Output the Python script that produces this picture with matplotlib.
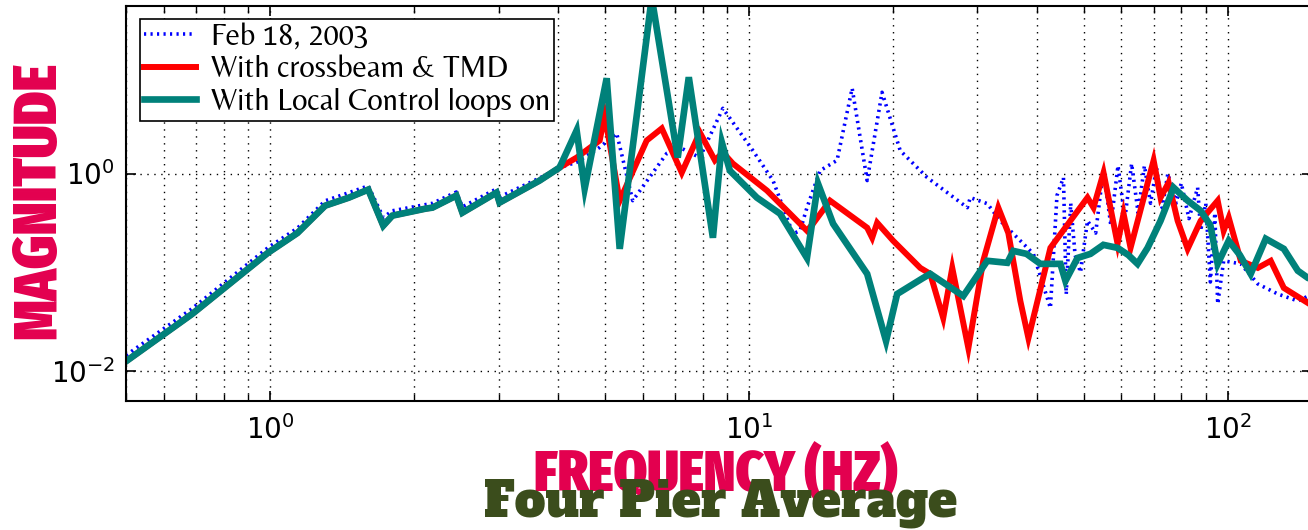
import numpy as np
import matplotlib
matplotlib.use("Agg")
import matplotlib.pyplot as plt
from matplotlib import font_manager
from matplotlib.ticker import FixedLocator, LogLocator, NullLocator, FuncFormatter

# --- data (frequency in Hz, magnitude) ---
f_feb = [0.5, 0.687, 0.99, 1.14, 1.303, 1.46, 1.603, 1.723, 1.80, 2.183, 2.449, 2.521, 2.97, 3.014,
         3.654, 4.023, 4.367, 4.879, 5.295, 5.719, 6.737, 7.17, 7.896, 8.823, 10.19, 11.23, 12.36,
         12.79, 13.22, 14.08, 15.28, 16.43, 17.66, 18.97, 20.70, 23.57, 28.59, 29.0, 31.47, 33.5,
         36.89, 39.28, 42.63, 44.0, 45.39, 46.0, 47.0, 48.0, 49.27, 50.95, 53.0, 55.0, 57.0, 59.0,
         61.0, 63.0, 65.0, 67.0, 69.0, 71.0, 73.0, 75.0, 78.0, 80.0, 83.0, 86.54, 87.81, 90.0, 92.0,
         94.0, 95.3, 98.09, 106.5, 115.6, 127.2, 140.1, 150.0]
m_feb = [0.0145, 0.043, 0.178, 0.28, 0.53, 0.64, 0.75, 0.36, 0.42, 0.50, 0.65, 0.46, 0.70, 0.58,
         0.90, 1.15, 1.3, 1.84, 2.55, 0.532, 1.60, 1.84, 1.45, 4.57, 1.71, 0.849, 0.246,
         0.264, 0.452, 1.07, 1.36, 7.29, 0.849, 6.64, 1.71, 0.911, 0.452, 0.571, 0.496, 0.333,
         0.209, 0.154, 0.0436, 0.6, 0.911, 0.06, 0.5, 0.15, 0.10, 0.333, 0.25, 1.1, 0.3, 1.2,
         0.35, 1.26, 0.4, 1.2, 0.5, 1.15, 0.45, 1.0, 0.5, 0.8, 0.35, 0.721, 0.264, 0.5, 0.08,
         0.4, 0.048, 0.131, 0.122, 0.0764, 0.0605, 0.0514, 0.06]

f_tmd = [0.5, 0.687, 0.99, 1.14, 1.303, 1.46, 1.603, 1.723, 1.80, 2.11, 2.183, 2.449, 2.521, 2.97,
         3.014, 3.654, 4.023, 4.367, 4.879, 4.997, 5.372, 6.117, 6.577, 7.24, 7.896, 8.491, 8.823,
         9.259, 10.91, 13.22, 13.61, 14.77, 17.66, 18.09, 18.53, 20.01, 22.80, 23.92, 25.46, 26.59,
         28.73, 30.86, 33.18, 34.82, 36.89, 38.35, 42.63, 50.95, 52.45, 55.04, 58.88, 60.60, 62.68,
         70.03, 72.41, 75.26, 78.6, 82.48, 87.81, 95.3, 98.09, 100.5, 106.5, 115.6, 123.0, 131.0,
         147.1, 150.0]
m_tmd = [0.0126, 0.0379, 0.158, 0.25, 0.473, 0.57, 0.688, 0.297, 0.375, 0.441, 0.452, 0.598, 0.402,
         0.641, 0.508, 0.849, 1.15, 1.45, 2.16, 3.88, 0.532, 2.16, 2.86, 1.02, 2.61, 1.36, 1.63,
         1.26, 0.672, 0.264, 0.311, 0.532, 0.283, 0.224, 0.318, 0.209, 0.111, 0.0966, 0.0345, 0.111,
         0.0171, 0.131, 0.452, 0.25, 0.0514, 0.0216, 0.177, 0.571, 0.452, 1.02, 0.195, 0.393, 0.177,
         1.36, 0.571, 0.81, 0.333, 0.173, 0.333, 0.532, 0.264, 0.358, 0.131, 0.111, 0.131, 0.0696,
         0.049, 0.055]

f_lc = [0.5, 0.687, 0.99, 1.14, 1.303, 1.46, 1.603, 1.723, 1.80, 2.11, 2.183, 2.449, 2.521, 2.97,
        3.014, 3.654, 4.023, 4.367, 4.539, 5.046, 5.372, 6.267, 7.101, 7.489, 8.41, 8.781, 9.126,
        10.39, 11.61, 13.22, 13.94, 14.99, 17.66, 19.34, 20.40, 23.12, 23.92, 28.04, 31.47, 34.65,
        35.67, 38.0, 40.63, 44.73, 45.83, 48.56, 51.69, 55.0, 58.88, 62.0, 64.82, 68.03, 72.41,
        77.09, 82.48, 87.81, 92.0, 95.3, 100.5, 106.0, 111.7, 120.1, 131.0, 140.1, 147.1, 150.0]
m_lc = [0.0126, 0.0379, 0.158, 0.25, 0.473, 0.57, 0.688, 0.297, 0.375, 0.441, 0.452, 0.598, 0.402,
        0.641, 0.508, 0.849, 1.15, 2.73, 0.704, 9.21, 0.173, 60.0, 1.45, 9.43, 0.224, 2.06, 1.07,
        0.571, 0.393, 0.140, 0.792, 0.311, 0.0966, 0.0202, 0.0605, 0.0879, 0.0966, 0.0577, 0.131,
        0.125, 0.165, 0.154, 0.122, 0.122, 0.082, 0.140, 0.154, 0.19, 0.177, 0.15, 0.122, 0.177,
        0.333, 0.721, 0.532, 0.421, 0.30, 0.122, 0.209, 0.15, 0.0966, 0.219, 0.173, 0.104, 0.0879,
        0.085]

labels = ["Feb 18, 2003", "With crossbeam & TMD", "With Local Control loops on"]


def pick(names):
    have = set(f.name for f in font_manager.fontManager.ttflist)
    for n in names:
        if n in have:
            return n
    return "DejaVu Sans"


tickfont = pick(["Pragati Narrow", "Liberation Sans Narrow", "Arimo", "Liberation Sans"])
legfont = pick(["Belleza", "Tenor Sans", "Lato"])
heavy = pick(["Fira Sans Extra Condensed", "Fira Sans Condensed", "DejaVu Sans"])
slab = pick(["Ultra", "Alfa Slab One", "Abril Fatface", "DejaVu Serif"])

plt.rcParams["mathtext.fontset"] = "custom"
plt.rcParams["mathtext.rm"] = tickfont
plt.rcParams["mathtext.it"] = tickfont
plt.rcParams["mathtext.bf"] = tickfont

fig = plt.figure(figsize=(13.08, 5.30), dpi=100)
ax = fig.add_axes([126 / 1308, 1 - 401 / 530, (1312 - 126) / 1308, (401 - 5.6) / 530])

ax.plot(f_feb, m_feb, color="#0000ff", linestyle=(0, (0.6, 1.2)), linewidth=2.6, label=labels[0])
ax.plot(f_tmd, m_tmd, color="#ff0000", linewidth=4.3, label=labels[1], solid_joinstyle="miter")
ax.plot(f_lc, m_lc, color="#00817a", linewidth=4.8, label=labels[2], solid_joinstyle="miter")

ax.set_xscale("log")
ax.set_yscale("log")
ax.set_xlim(0.5, 150)
ax.set_ylim(0.005, 50)

ax.xaxis.set_major_locator(FixedLocator([1, 10, 100]))
ax.xaxis.set_minor_locator(LogLocator(base=10, subs=np.arange(2, 10)))
ax.yaxis.set_major_locator(FixedLocator([1e-2, 1e0]))
ax.yaxis.set_minor_locator(NullLocator())
fmt = FuncFormatter(lambda v, p: r"$\mathregular{10^{%d}}$" % round(np.log10(v)))
ax.xaxis.set_major_formatter(fmt)
ax.yaxis.set_major_formatter(fmt)
ax.xaxis.set_minor_formatter(FuncFormatter(lambda v, p: ""))

ax.tick_params(which="both", direction="in", top=True, right=True, labelsize=20, colors="black")
ax.tick_params(which="major", length=7, width=1.2)
ax.tick_params(which="minor", length=5, width=1.0)
ax.tick_params(axis="x", pad=10)
ax.tick_params(axis="y", pad=8)

ax.grid(True, which="major", color="black", linestyle=(0, (1, 4)), linewidth=1.0)
ax.grid(True, which="minor", axis="x", color="black", linestyle=(0, (1, 4)), linewidth=1.0)
for s in ax.spines.values():
    s.set_linewidth(1.5)

leg = ax.legend(loc="upper left", bbox_to_anchor=((140 - 126) / 1186, (401 - 19) / 395.4),
                borderaxespad=0, fancybox=False, framealpha=1, edgecolor="black",
                prop={"family": legfont, "size": 22},
                handlelength=1.7, handletextpad=0.5, labelspacing=0.12, borderpad=0.12)
leg.get_frame().set_linewidth(1.2)

fig.text(39 / 1308, 1 - 201 / 530, "MAGNITUDE", rotation=90, ha="center", va="center",
         color="#e3004f", fontsize=44, fontweight=900, family=heavy)
fig.text(716 / 1308, 1 - 474 / 530, "FREQUENCY (HZ)", ha="center", va="center",
         color="#e3004f", fontsize=42, fontweight=900, family=heavy)
fig.text(720 / 1308, 1 - 503 / 530, "Four Pier Average", ha="center", va="center",
         color="#3b4d1c", fontsize=35, family=slab)

fig.savefig("out.png", dpi=100)
